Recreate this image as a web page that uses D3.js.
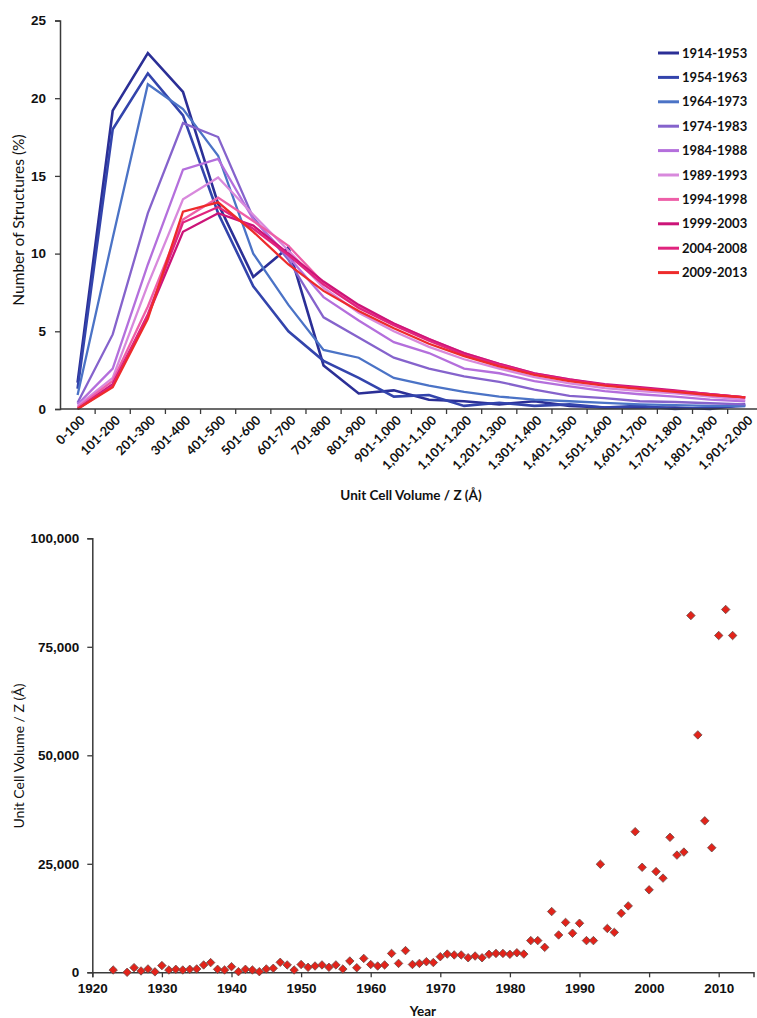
<!DOCTYPE html>
<html><head><meta charset="utf-8">
<script src="https://cdn.jsdelivr.net/npm/d3@7"></script>
<style>
body{margin:0;background:#fff;}
svg{display:block;font-family:Lato,"Open Sans",sans-serif;}
</style></head>
<body>
<svg id="c" width="757" height="1018"></svg>
<script>
const categories = ["0-100","101-200","201-300","301-400","401-500","501-600","601-700","701-800","801-900","901-1,000","1,001-1,100","1,101-1,200","1,201-1,300","1,301-1,400","1,401-1,500","1,501-1,600","1,601-1,700","1,701-1,800","1,801-1,900","1,901-2,000"];
const seriesNames = ["1914-1953","1954-1963","1964-1973","1974-1983","1984-1988","1989-1993","1994-1998","1999-2003","2004-2008","2009-2013"];
const s1914 = [1.7, 19.2, 22.9, 20.4, 13.2, 8.5, 10.4, 2.8, 1.0, 1.2, 0.6, 0.5, 0.3, 0.5, 0.2, 0.1, 0.1, 0.1, 0.0, 0.3];
const s1954 = [1.3, 18.0, 21.6, 18.9, 12.6, 7.9, 5.0, 3.1, 2.0, 0.8, 0.9, 0.2, 0.4, 0.2, 0.3, 0.1, 0.2, 0.0, 0.1, 0.2];
const s1964 = [0.9, 11.0, 20.9, 19.3, 16.3, 10.0, 6.7, 3.8, 3.3, 2.0, 1.5, 1.1, 0.8, 0.6, 0.5, 0.4, 0.3, 0.25, 0.2, 0.2];
const s1974 = [0.4, 4.8, 12.6, 18.4, 17.5, 12.3, 9.6, 5.9, 4.6, 3.3, 2.6, 2.1, 1.75, 1.25, 0.85, 0.7, 0.5, 0.45, 0.37, 0.3];
const s1984 = [0.3, 2.6, 9.3, 15.4, 16.1, 12.2, 9.8, 7.2, 5.7, 4.3, 3.6, 2.6, 2.3, 1.8, 1.45, 1.15, 0.95, 0.8, 0.6, 0.5];
const s1989 = [0.2, 2.0, 8.0, 13.5, 14.9, 12.5, 10.2, 7.8, 6.2, 5.0, 4.0, 3.2, 2.6, 2.05, 1.65, 1.35, 1.15, 1.0, 0.8, 0.6];
const s1994 = [0.1, 1.8, 6.6, 12.2, 13.6, 12.1, 10.5, 8.1, 6.6, 5.5, 4.5, 3.6, 2.9, 2.3, 1.9, 1.55, 1.35, 1.15, 0.95, 0.75];
const s1999 = [0.0, 1.6, 6.0, 11.4, 12.6, 11.8, 10.0, 8.2, 6.7, 5.5, 4.5, 3.6, 2.9, 2.3, 1.9, 1.6, 1.4, 1.2, 0.95, 0.75];
const s2004 = [0.0, 1.5, 6.1, 12.0, 13.0, 11.6, 9.9, 8.0, 6.5, 5.4, 4.4, 3.5, 2.85, 2.25, 1.85, 1.55, 1.35, 1.15, 0.95, 0.75];
const s2009 = [0.0, 1.4, 5.8, 12.7, 13.3, 11.4, 9.3, 7.6, 6.3, 5.2, 4.2, 3.4, 2.75, 2.2, 1.8, 1.5, 1.3, 1.1, 0.9, 0.75];
const seriesValues = [s1914, s1954, s1964, s1974, s1984, s1989, s1994, s1999, s2004, s2009];
const seriesColors = ["#2b2f96","#3344ac","#4b73c6","#8563cc","#b46fdc","#d889dc","#ee5fa8","#cc1478","#e0247e","#ee2b2b"];
const yTicksTop = [0,5,10,15,20,25];

const years = [1923,1925,1926,1927,1928,1929,1930,1931,1932,1933,1934,1935,1936,1937,1938,1939,1940,1941,1942,1943,1944,1945,1946,1947,1948,1949,1950,1951,1952,1953,1954,1955,1956,1957,1958,1959,1960,1961,1962,1963,1964,1965,1966,1967,1968,1969,1970,1971,1972,1973,1974,1975,1976,1977,1978,1979,1980,1981,1982,1983,1984,1985,1986,1987,1988,1989,1990,1991,1992,1993,1994,1995,1996,1997,1998,1999,2000,2001,2002,2003,2004,2005,2006,2007,2008,2009,2010,2011,2012];
const volumes = [530,0,1075,310,770,100,1540,530,690,530,690,770,1690,2230,690,530,1300,150,690,530,150,770,920,2300,1700,530,1800,1150,1450,1700,1150,1700,750,2600,1050,3200,1800,1450,1700,4350,2050,5000,1800,2050,2450,2250,3600,4200,4000,4000,3350,3750,3350,4150,4350,4350,4150,4500,4200,7300,7300,5750,14000,8600,11500,9000,11300,7300,7300,24900,10100,9200,13600,15300,32400,24200,19000,23200,21700,31100,27000,27700,82200,54700,34900,28700,77600,83600,77600];
const yTicksBottom = [0,25000,50000,75000,100000];
const xTicksBottom = [1920,1930,1940,1950,1960,1970,1980,1990,2000,2010];

const svg = d3.select("#c");
const axisColor = "#3a3a3a";

// ---------- Top chart ----------
const x0 = 60, xEnd = 762.8, yTop0 = 409, yTop25 = 20.5;
const xb = d3.scaleBand().domain(categories).range([x0, xEnd]).padding(0);
const yt = d3.scaleLinear().domain([0,25]).range([yTop0, yTop25]);
const cx = c => xb(c) + xb.bandwidth()/2;

const gTop = svg.append("g");
const line = d3.line().x((d,i)=>cx(categories[i])).y(d=>yt(d));
seriesValues.forEach((vals,k)=>{
  gTop.append("path").attr("d", line(vals)).attr("fill","none")
    .attr("stroke", seriesColors[k]).attr("stroke-width", k<2?2.6:2.3)
    .attr("stroke-linejoin","miter");
});
const yAxT = gTop.append("g").attr("transform",`translate(${x0},0)`)
  .call(d3.axisLeft(yt).tickValues(yTicksTop).tickSize(5).tickPadding(9));
yAxT.select(".domain").attr("stroke",axisColor).attr("stroke-width",1.5);
yAxT.selectAll(".tick line").attr("stroke",axisColor).attr("stroke-width",1.3);
yAxT.selectAll("text").attr("font-size",13.5).attr("font-weight","bold").attr("fill","#111");
gTop.append("line").attr("x1",x0).attr("x2",xEnd).attr("y1",yTop0).attr("y2",yTop0)
  .attr("stroke",axisColor).attr("stroke-width",1.5);
gTop.selectAll(".bt").data(categories.slice(1)).enter().append("line")
  .attr("x1",d=>xb(d)).attr("x2",d=>xb(d)).attr("y1",yTop0).attr("y2",yTop0+5)
  .attr("stroke",axisColor).attr("stroke-width",1.3);
gTop.selectAll(".cl").data(categories).enter().append("text")
  .attr("transform",d=>`translate(${cx(d)+5},${yTop0+9}) rotate(-45)`)
  .attr("text-anchor","end").attr("dy","0.35em")
  .attr("font-size",12.8).attr("font-weight","bold").attr("fill","#111").text(d=>d);
gTop.append("text").attr("x",411).attr("y",500).attr("text-anchor","middle")
  .attr("font-size",13.5).attr("font-weight","bold").attr("fill","#111").text("Unit Cell Volume / Z (Å)");
gTop.append("text").attr("transform","translate(24,220) rotate(-90)").attr("text-anchor","middle")
  .attr("font-size",15.5).attr("fill","#111").text("Number of Structures (%)");
const leg = gTop.append("g");
seriesNames.forEach((n,k)=>{
  const ly = 53 + k*24.4;
  leg.append("line").attr("x1",658).attr("x2",679).attr("y1",ly).attr("y2",ly)
    .attr("stroke",seriesColors[k]).attr("stroke-width",3);
  leg.append("text").attr("x",682).attr("y",ly).attr("dy","0.36em")
    .attr("font-size",13).attr("font-weight","bold").attr("fill","#111").text(n);
});

// ---------- Bottom chart ----------
const bx0 = 92.3, bxEnd = 753.5, by0 = 972.3, byTop = 538.3;
const xs = d3.scaleLinear().domain([1920,2015]).range([bx0,bxEnd]);
const ys = d3.scaleLinear().domain([0,100000]).range([by0,byTop]);
const gBot = svg.append("g");
const yAxB = gBot.append("g").attr("transform",`translate(${bx0},0)`)
  .call(d3.axisLeft(ys).tickValues(yTicksBottom).tickSize(5).tickPadding(8).tickFormat(d3.format(",")));
yAxB.select(".domain").attr("stroke",axisColor).attr("stroke-width",1.5);
yAxB.selectAll(".tick line").attr("stroke",axisColor).attr("stroke-width",1.3);
yAxB.selectAll("text").attr("font-size",13.5).attr("font-weight","bold").attr("fill","#111");
const xAxB = gBot.append("g").attr("transform",`translate(0,${by0})`)
  .call(d3.axisBottom(xs).tickValues(xTicksBottom).tickSize(5).tickPadding(6).tickFormat(d3.format("d")));
xAxB.select(".domain").attr("stroke",axisColor).attr("stroke-width",1.5);
xAxB.selectAll(".tick line").attr("stroke",axisColor).attr("stroke-width",1.3);
xAxB.selectAll("text").attr("font-size",13.5).attr("font-weight","bold").attr("fill","#111");
gBot.append("text").attr("x",(bx0+bxEnd)/2).attr("y",1016).attr("text-anchor","middle")
  .attr("font-size",13.5).attr("font-weight","bold").attr("fill","#111").text("Year");
gBot.append("text").attr("transform","translate(24,756) rotate(-90)").attr("text-anchor","middle")
  .attr("font-size",14).attr("fill","#111").text("Unit Cell Volume / Z (Å)");
const sym = d3.symbol().type(d3.symbolDiamond2).size(46);
gBot.selectAll(".pt").data(years).enter().append("path")
  .attr("d", sym)
  .attr("transform",(d,i)=>`translate(${xs(d)},${ys(volumes[i])})`)
  .attr("fill","#e2231a").attr("stroke","#6a4a48").attr("stroke-width",0.8);
</script>
</body></html>
